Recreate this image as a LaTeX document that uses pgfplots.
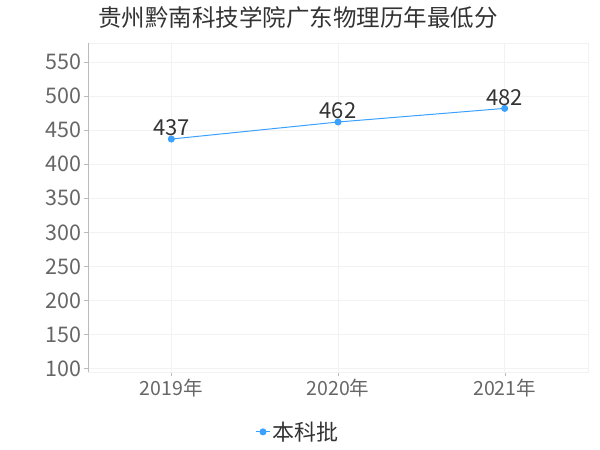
\documentclass[border=0pt]{standalone}
\usepackage{fontspec}
\setmainfont{Noto Sans CJK SC}
\usepackage{pgfplots}
\pgfplotsset{compat=1.18}
\definecolor{lineblue}{HTML}{3BA1FF}
\definecolor{gridc}{HTML}{F2F2F2}
\definecolor{axisc}{HTML}{BBBBBB}
\definecolor{tickc}{HTML}{666666}
\definecolor{labc}{HTML}{333333}
\begin{document}
\begin{tikzpicture}[x=1pt,y=1pt]
\path[use as bounding box] (0,0) rectangle (600,450);
\node[anchor=base, text=labc, font=\fontsize{23.5}{28}\selectfont] at (298,423) {贵州黔南科技学院广东物理历年最低分};
\begin{axis}[
    at={(88pt,78pt)}, anchor=south west,
    scale only axis, width=500pt, height=329pt,
    xmin=-0.5, xmax=2.5, ymin=95, ymax=578,
    xtick={0,1,2}, xticklabels={2019年,2020年,2021年},
    ytick={100,150,...,550},
    /pgf/number format/assume math mode=true,
    ticklabel style={text=tickc, font=\fontsize{19.5}{23}\selectfont},
    y tick label style={font=\fontsize{21.5}{25}\selectfont, xshift=1pt},
    tick align=outside, major tick length=4pt,
    tick style={axisc},
    xtick pos=bottom, ytick pos=left,
    grid=major, major grid style={gridc},
    axis line style={gridc},
    legend style={at={(0.42,-0.182)}, anchor=center, draw=none, fill=none,
        font=\fontsize{22}{26}\selectfont, text=labc},
    legend image code/.code={
        \draw[lineblue, line width=1pt] (-0.3cm,0) -- (0.2cm,0);
        \fill[lineblue] (-0.05cm,0) circle (3pt);
    },
]
\draw[axisc, line width=0.8pt] (rel axis cs:0,1) -- (rel axis cs:0,0) -- (rel axis cs:1,0);
\addplot[lineblue, line width=1pt, mark=*, mark size=3pt,
    nodes near coords, every node near coord/.style={text=labc, font=\fontsize{22}{26}\selectfont, anchor=south, yshift=-1pt}]
    coordinates {(0,437) (1,462) (2,482)};
\legend{本科批}
\end{axis}
\end{tikzpicture}
\end{document}
